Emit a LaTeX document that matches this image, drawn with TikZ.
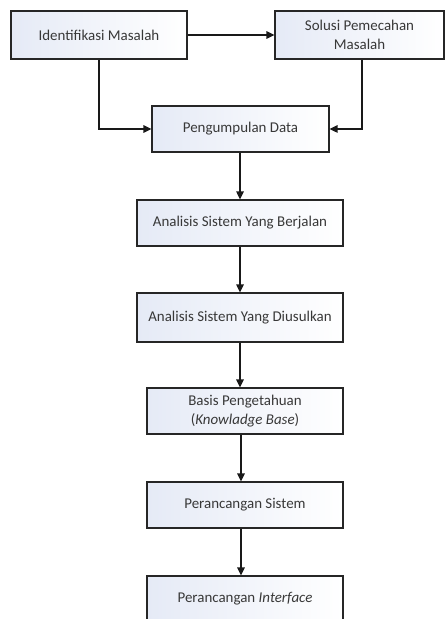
\documentclass[tikz,border=0pt]{standalone}
\usepackage{fontspec}
\setmainfont{Carlito}
\usetikzlibrary{arrows.meta}
\definecolor{boxtint}{RGB}{229,234,246}
\begin{document}
\begin{tikzpicture}[x=1bp,y=-1bp,
  flowbox/.style={draw=black!85, line width=1.3bp, left color=boxtint, right color=white,
    inner sep=0pt, align=center, text=black!78, font=\fontsize{15}{19}\selectfont},
  flow/.style={draw=black!90, line width=1.4bp, -{Triangle[length=8bp,width=7.5bp]}}]
\useasboundingbox (0,0) rectangle (445,619);
\clip (0,0) rectangle (445,619);

% process steps
\node[flowbox, minimum width=176bp, minimum height=48bp] (ident) at (99,35) {Identifikasi Masalah};
\node[flowbox, minimum width=169bp, minimum height=48bp] (solusi) at (359.5,35) {Solusi Pemecahan\\Masalah};
\node[flowbox, minimum width=177bp, minimum height=46bp] (data) at (240.5,129) {Pengumpulan Data};
\node[flowbox, minimum width=206bp, minimum height=46bp] (berjalan) at (240,223) {Analisis Sistem Yang Berjalan};
\node[flowbox, minimum width=206bp, minimum height=49bp] (usulan) at (240,317.5) {Analisis Sistem Yang Diusulkan};
\node[flowbox, minimum width=196bp, minimum height=46bp] (basis) at (245,411) {Basis Pengetahuan\\(\textit{Knowladge Base})};
\node[flowbox, minimum width=196bp, minimum height=46bp] (sistem) at (245,505) {Perancangan Sistem};
\node[flowbox, minimum width=196bp, minimum height=46bp] (iface) at (245,599) {Perancangan \textit{Interface}};

% connectors
\draw[flow] (ident.east) -- (solusi.west);
\draw[flow] (ident.south) -- (ident.south |- data.west) -- (data.west);
\draw[flow] ([xshift=2.5bp]solusi.south) -- ([xshift=2.5bp]solusi.south |- data.east) -- (data.east);
\draw[flow] (berjalan.north |- data.south) -- (berjalan.north);
\draw[flow] (berjalan.south) -- (usulan.north);
\draw[flow] (usulan.south) -- (usulan.south |- basis.north);
\draw[flow] ([xshift=-4bp]basis.south) -- ([xshift=-4bp]sistem.north);
\draw[flow] ([xshift=-4bp]sistem.south) -- ([xshift=-4bp]iface.north);
\end{tikzpicture}
\end{document}
